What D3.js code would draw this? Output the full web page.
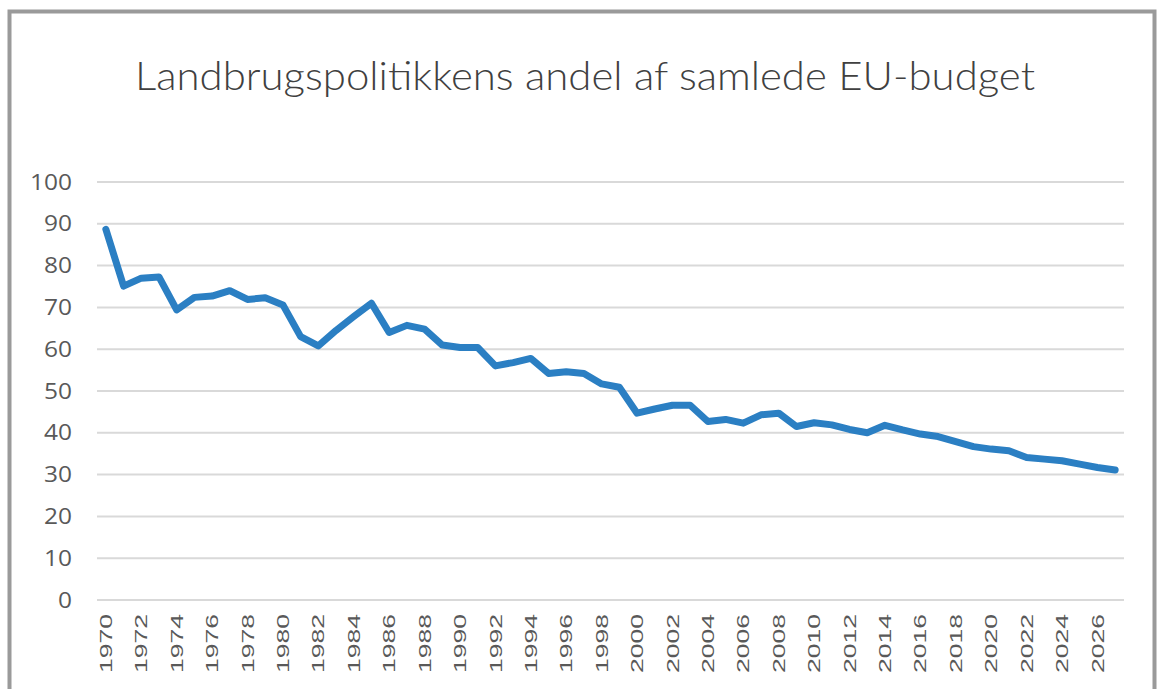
<!DOCTYPE html>
<html>
<head>
<meta charset="utf-8">
<script src="https://cdn.jsdelivr.net/npm/d3@7/dist/d3.min.js"></script>
<style>
  html, body { margin: 0; padding: 0; background: #fff; }
  svg { display: block; }
</style>
</head>
<body>
<svg id="chart" width="1157" height="689"></svg>
<script>
// Data
const years = d3.range(1970, 2028);
const shares = [
  88.7, 75.1, 77.0, 77.3, 69.4, 72.4, 72.7, 74.0, 71.9, 72.3,
  70.6, 63.0, 60.8, 64.5, 67.8, 71.0, 64.0, 65.7, 64.8, 61.0,
  60.4, 60.4, 56.0, 56.8, 57.8, 54.2, 54.6, 54.2, 51.7, 50.9,
  44.7, 45.7, 46.6, 46.6, 42.7, 43.2, 42.3, 44.3, 44.7, 41.5,
  42.4, 41.9, 40.8, 40.0, 41.8, 40.7, 39.7, 39.1, 37.9, 36.7,
  36.1, 35.7, 34.1, 33.7, 33.3, 32.5, 31.7, 31.1
];
const yTicks = [0, 10, 20, 30, 40, 50, 60, 70, 80, 90, 100];
const xTickYears = years.filter(y => y % 2 === 0);
const title = "Landbrugspolitikkens andel af samlede EU-budget";

const svg = d3.select("#chart");
const W = 1157, H = 689;

svg.append("rect").attr("width", W).attr("height", H).attr("fill", "#fff");

// grå ramme (ingen bund)
svg.append("path")
  .attr("d", `M9.5,${H} L9.5,11.5 L1154.5,11.5 L1154.5,${H}`)
  .attr("fill", "none")
  .attr("stroke", "#9a9a9a")
  .attr("stroke-width", 4);

const plot = { left: 97, right: 1124, top: 182, bottom: 600 };

const x = d3.scaleBand()
  .domain(years)
  .range([plot.left, plot.right]);

const y = d3.scaleLinear()
  .domain([0, 100])
  .range([plot.bottom, plot.top]);

// titel
svg.append("text")
  .attr("x", 135)
  .attr("y", 90)
  .attr("textLength", 900)
  .attr("lengthAdjust", "spacingAndGlyphs")
  .style("font-family", "Lato, 'Open Sans', sans-serif")
  .style("font-weight", 300)
  .style("font-size", "40px")
  .style("fill", "#404040")
  .text(title);

// gitterlinjer
svg.append("g")
  .selectAll("line")
  .data(yTicks)
  .join("line")
  .attr("x1", plot.left)
  .attr("x2", plot.right)
  .attr("y1", d => y(d))
  .attr("y2", d => y(d))
  .attr("stroke", "#d9d9d9")
  .attr("stroke-width", 2);

// y-etiketter
svg.append("g")
  .selectAll("text")
  .data(yTicks)
  .join("text")
  .attr("x", 72)
  .attr("y", d => y(d))
  .attr("dy", "0.36em")
  .attr("text-anchor", "end")
  .attr("textLength", d => String(d).length * 14)
  .attr("lengthAdjust", "spacingAndGlyphs")
  .style("font-family", "'Open Sans', sans-serif")
  .style("font-size", "21px")
  .style("fill", "#595959")
  .text(d => d);

// x-etiketter, drejet
svg.append("g")
  .selectAll("text")
  .data(xTickYears)
  .join("text")
  .attr("transform", d => `translate(${x(d) + x.bandwidth() / 2},614) rotate(-90)`)
  .attr("dy", "0.36em")
  .attr("text-anchor", "end")
  .attr("textLength", 59)
  .attr("lengthAdjust", "spacingAndGlyphs")
  .style("font-family", "'Liberation Sans', Arial, sans-serif")
  .style("font-size", "17px")
  .style("fill", "#595959")
  .text(d => d);

// linjen
const line = d3.line()
  .x((d, i) => x(years[i]) + x.bandwidth() / 2)
  .y(d => y(d));

svg.append("path")
  .datum(shares)
  .attr("d", line)
  .attr("fill", "none")
  .attr("stroke", "#2b7fc3")
  .attr("stroke-width", 7)
  .attr("stroke-linejoin", "round")
  .attr("stroke-linecap", "round");
</script>
</body>
</html>
